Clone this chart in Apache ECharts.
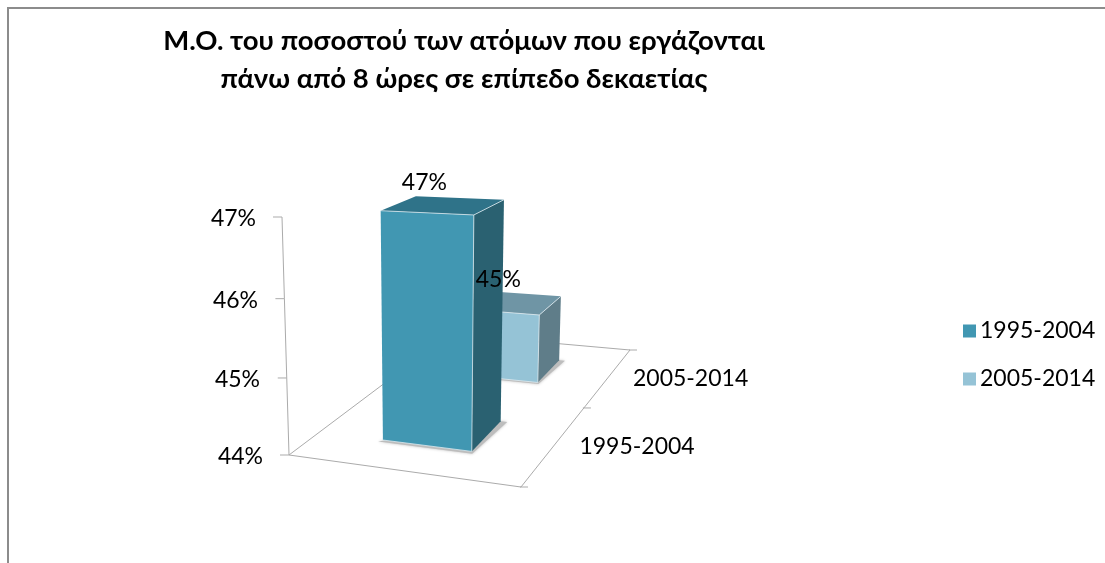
<!DOCTYPE html>
<html>
<head>
<meta charset="utf-8">
<style>html,body{margin:0;padding:0;background:#fff}#c{width:1105px;height:563px}</style>
<script src="https://cdn.jsdelivr.net/npm/echarts@6/dist/echarts.min.js"></script>
</head>
<body>
<div id="c"></div>
<script>
const titleLines = ['Μ.Ο. του ποσοστού των ατόμων που εργάζονται', 'πάνω από 8 ώρες σε επίπεδο δεκαετίας'];
const categories = ['1995-2004', '2005-2014'];
const seriesNames = ['1995-2004', '2005-2014'];
const seriesValues = [46.97, 45.02];
const yTicks = [44, 45, 46, 47];

const FONT = 'Lato, "Open Sans", "Noto Sans", sans-serif';
const TEXT_SIZE = 23;
const faces = [
  { front: '#4197B2', side: '#2A6171', top: '#2F7389' },
  { front: '#95C3D6', side: '#5F7D89', top: '#6F95A5' }
];
const axisColor = '#ABABAB';

// Floor homography (unit square -> screen), from the chart's 3D view.
const H = { a: 191.59, b: 312.12, c: 289, d: -5.77, e: -8.83, f: 455, g: -0.07756, h: 0.33583 };
const PERSPECTIVE = 0.045, LEAN_CENTER = 430, LEAN_DIST = 4794;
const yMin = yTicks[0], yMax = yTicks[yTicks.length - 1];

function project(api, u, v, value) {
  const w = H.g * u + H.h * v + 1;
  const fx = (H.a * u + H.b * v + H.c) / w;
  const fy = (H.d * u + H.e * v + H.f) / w;
  const y0 = api.coord([0, yMin])[1];
  const y1 = api.coord([0, yMax])[1];
  const frac = (y0 - api.coord([0, value])[1]) / (y0 - y1);
  const bent = frac / (1 + PERSPECTIVE * (1 - frac));
  const height = bent * (y0 - y1) / w;
  return [fx + height * (fx - LEAN_CENTER) / LEAN_DIST, fy - height];
}
function poly(points, fill, extra) {
  return { type: 'polygon', shape: { points }, style: Object.assign({ fill }, extra || {}) };
}
function line(points, stroke, width) {
  return { type: 'polyline', shape: { points }, style: { fill: null, stroke, lineWidth: width || 1 } };
}

function renderFrame(params, api) {
  if (params.dataIndex !== 0) return;
  const c = [];
  const p = (u, v) => project(api, u, v, yMin);
  c.push(line([p(0, 1), p(1, 1), p(1, 0), p(0, 0), p(0, 1)], axisColor));
  c.push(line(yTicks.map(t => project(api, 0, 0, t)), axisColor));
  yTicks.forEach(t => {
    const q = project(api, 0, 0, t);
    c.push(line([[q[0] - 9, q[1]], q], axisColor));
  });
  [0, 0.5, 1].forEach(v => {
    const q = p(1, v);
    c.push(line([[q[0] - 1, q[1]], [q[0] + 7, q[1]]], axisColor));
  });
  categories.forEach((name, i) => {
    const q = p(1, (i + 0.5) / categories.length);
    c.push({ type: 'text', style: { text: name, x: q[0] + 82, y: q[1] + 2, align: 'center', verticalAlign: 'middle',
      fill: '#000', font: TEXT_SIZE + 'px ' + FONT } });
  });
  return { type: 'group', children: c };
}

function renderBar(params, api) {
  const idx = api.value(0), value = api.value(1);
  const vc = (idx + 0.5) / categories.length;
  const u0 = 0.3, u1 = 0.7, v0 = vc - 0.1, v1 = vc + 0.1;
  const col = faces[idx];
  const P = (u, v, z) => project(api, u, v, z);
  const flb = P(u0, v0, yMin), frb = P(u1, v0, yMin), brb = P(u1, v1, yMin);
  const flt = P(u0, v0, value), frt = P(u1, v0, value), brt = P(u1, v1, value), blt = P(u0, v1, value);
  const shadow = poly([P(u0 - 0.012, v0 - 0.012, yMin), P(u1 + 0.01, v0 - 0.012, yMin), P(u1 + 0.03, v1, yMin), brb],
    '#BDBDBD', { shadowBlur: 3, shadowColor: 'rgba(0,0,0,0.25)' });
  return { type: 'group', children: [
    shadow,
    poly([flb, frb, frt, flt], col.front),
    poly([frb, brb, brt, frt], col.side),
    poly([flt, frt, brt, blt], col.top),
    line([flb, frb, frt, flt], 'rgba(225,238,243,0.75)', 1),
    line([frt, brt], 'rgba(225,238,243,0.75)', 1)
  ] };
}

function renderLabel(params, api) {
  const idx = api.value(0), value = api.value(1);
  const vc = (idx + 0.5) / categories.length;
  const q = project(api, 0.5, vc, value);
  return { type: 'text', style: { text: Math.round(value) + '%', x: q[0] - 19 + 6 * idx, y: q[1] - 23,
    align: 'center', verticalAlign: 'middle', fill: '#000', font: TEXT_SIZE + 'px ' + FONT } };
}

const barData = seriesValues.map((v, i) => [i, v]);
const labelPad = { 44: 0, 45: 3, 46: 5, 47: 7 };
const labelTop = { 44: 4, 45: 8, 46: 9, 47: 4 };
const rich = {};
yTicks.forEach(t => {
  rich['t' + t] = { fontFamily: FONT, fontSize: TEXT_SIZE, color: '#000', padding: [labelTop[t], labelPad[t], 0, 0] };
});

const chart = echarts.init(document.getElementById('c'));
chart.setOption({
  animation: false,
  backgroundColor: '#fff',
  title: {
    text: titleLines.join('\n'), left: 459, top: 17, textAlign: 'center',
    textStyle: { fontFamily: FONT, fontSize: 27.5, fontWeight: 'bold', color: '#000', lineHeight: 38 }
  },
  legend: {
    data: seriesNames, orient: 'vertical', left: 958, top: 313, itemWidth: 13, itemHeight: 13, itemGap: 22, icon: 'rect',
    textStyle: { fontFamily: FONT, fontSize: TEXT_SIZE, color: '#000', lineHeight: 26, padding: [0, 0, 0, -1] }
  },
  grid: { left: 285, top: 217, width: 400, height: 238 },
  xAxis: { type: 'value', min: 0, max: 1, show: false },
  yAxis: {
    type: 'value', min: yMin, max: yMax, interval: 1,
    axisLine: { show: false }, axisTick: { show: false }, splitLine: { show: false },
    axisLabel: { margin: 22, formatter: v => '{t' + v + '|' + v + '%}', rich }
  },
  graphic: [{
    type: 'polyline', silent: true, z: 0,
    shape: { points: [[8, 563], [8, 8], [1105, 8]] },
    style: { fill: null, stroke: '#8C8C8C', lineWidth: 2 }
  }],
  series: [
    { type: 'custom', name: 'floor', data: yTicks.map(t => [0, t]), renderItem: renderFrame, z: 1, silent: true },
    { type: 'custom', name: seriesNames[1], data: [barData[1]], renderItem: renderBar, z: 2, itemStyle: { color: faces[1].front }, encode: { x: 0, y: 1 } },
    { type: 'custom', name: seriesNames[0], data: [barData[0]], renderItem: renderBar, z: 3, itemStyle: { color: faces[0].front }, encode: { x: 0, y: 1 } },
    { type: 'custom', name: 'labels', data: barData, renderItem: renderLabel, z: 4, silent: true, encode: { x: 0, y: 1 } }
  ]
});
</script>
</body>
</html>
